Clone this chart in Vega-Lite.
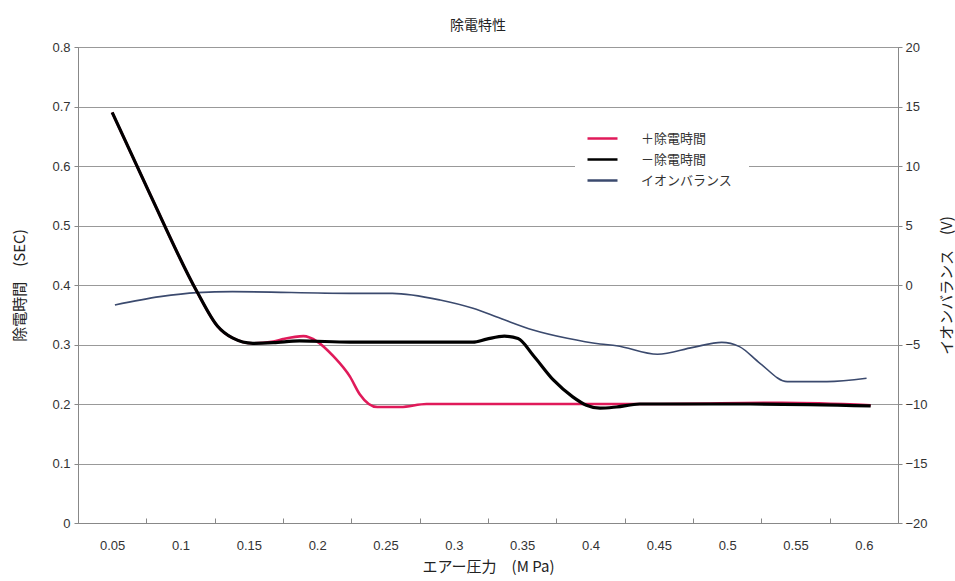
{
  "$schema": "https://vega.github.io/schema/vega-lite/v6.json",
  "width": 820,
  "height": 476,
  "autosize": {"type": "none"},
  "padding": {"left": 78, "top": 47, "right": 57, "bottom": 58},
  "background": "white",
  "title": {
    "text": "除電特性",
    "font": "Noto Sans CJK JP",
    "fontSize": 14,
    "fontWeight": "normal",
    "color": "#222",
    "offset": 8,
    "dx": -10
  },
  "datasets": {
    "plus": [
      {"p": 0.05, "value": 0.69, "series": "＋除電時間"},
      {"p": 0.078, "value": 0.551, "series": "＋除電時間"},
      {"p": 0.112, "value": 0.389, "series": "＋除電時間"},
      {"p": 0.127, "value": 0.331, "series": "＋除電時間"},
      {"p": 0.138, "value": 0.311, "series": "＋除電時間"},
      {"p": 0.153, "value": 0.302, "series": "＋除電時間"},
      {"p": 0.168, "value": 0.305, "series": "＋除電時間"},
      {"p": 0.175, "value": 0.309, "series": "＋除電時間"},
      {"p": 0.19, "value": 0.314, "series": "＋除電時間"},
      {"p": 0.2, "value": 0.305, "series": "＋除電時間"},
      {"p": 0.212, "value": 0.28, "series": "＋除電時間"},
      {"p": 0.224, "value": 0.246, "series": "＋除電時間"},
      {"p": 0.231, "value": 0.217, "series": "＋除電時間"},
      {"p": 0.244, "value": 0.195, "series": "＋除電時間"},
      {"p": 0.261, "value": 0.195, "series": "＋除電時間"},
      {"p": 0.28, "value": 0.2, "series": "＋除電時間"},
      {"p": 0.31, "value": 0.2, "series": "＋除電時間"},
      {"p": 0.4, "value": 0.2, "series": "＋除電時間"},
      {"p": 0.45, "value": 0.2, "series": "＋除電時間"},
      {"p": 0.54, "value": 0.202, "series": "＋除電時間"},
      {"p": 0.605, "value": 0.198, "series": "＋除電時間"}
    ],
    "minus": [
      {"p": 0.05, "value": 0.69, "series": "－除電時間"},
      {"p": 0.078, "value": 0.551, "series": "－除電時間"},
      {"p": 0.112, "value": 0.389, "series": "－除電時間"},
      {"p": 0.127, "value": 0.331, "series": "－除電時間"},
      {"p": 0.138, "value": 0.311, "series": "－除電時間"},
      {"p": 0.153, "value": 0.302, "series": "－除電時間"},
      {"p": 0.168, "value": 0.303, "series": "－除電時間"},
      {"p": 0.187, "value": 0.306, "series": "－除電時間"},
      {"p": 0.224, "value": 0.304, "series": "－除電時間"},
      {"p": 0.314, "value": 0.304, "series": "－除電時間"},
      {"p": 0.324, "value": 0.309, "series": "－除電時間"},
      {"p": 0.337, "value": 0.314, "series": "－除電時間"},
      {"p": 0.347, "value": 0.31, "series": "－除電時間"},
      {"p": 0.358, "value": 0.282, "series": "－除電時間"},
      {"p": 0.373, "value": 0.24, "series": "－除電時間"},
      {"p": 0.387, "value": 0.212, "series": "－除電時間"},
      {"p": 0.397, "value": 0.198, "series": "－除電時間"},
      {"p": 0.407, "value": 0.193, "series": "－除電時間"},
      {"p": 0.419, "value": 0.195, "series": "－除電時間"},
      {"p": 0.436, "value": 0.2, "series": "－除電時間"},
      {"p": 0.517, "value": 0.2, "series": "－除電時間"},
      {"p": 0.605, "value": 0.197, "series": "－除電時間"}
    ],
    "ion": [
      {"p": 0.052, "volt": -1.68, "series": "イオンバランス"},
      {"p": 0.085, "volt": -0.98, "series": "イオンバランス"},
      {"p": 0.112, "volt": -0.64, "series": "イオンバランス"},
      {"p": 0.138, "volt": -0.56, "series": "イオンバランス"},
      {"p": 0.224, "volt": -0.7, "series": "イオンバランス"},
      {"p": 0.255, "volt": -0.7, "series": "イオンバランス"},
      {"p": 0.29, "volt": -1.26, "series": "イオンバランス"},
      {"p": 0.314, "volt": -1.96, "series": "イオンバランス"},
      {"p": 0.334, "volt": -2.8, "series": "イオンバランス"},
      {"p": 0.358, "volt": -3.78, "series": "イオンバランス"},
      {"p": 0.383, "volt": -4.48, "series": "イオンバランス"},
      {"p": 0.407, "volt": -4.96, "series": "イオンバランス"},
      {"p": 0.419, "volt": -5.1, "series": "イオンバランス"},
      {"p": 0.449, "volt": -5.82, "series": "イオンバランス"},
      {"p": 0.475, "volt": -5.24, "series": "イオンバランス"},
      {"p": 0.496, "volt": -4.82, "series": "イオンバランス"},
      {"p": 0.509, "volt": -5.18, "series": "イオンバランス"},
      {"p": 0.524, "volt": -6.58, "series": "イオンバランス"},
      {"p": 0.544, "volt": -8.12, "series": "イオンバランス"},
      {"p": 0.573, "volt": -8.12, "series": "イオンバランス"},
      {"p": 0.602, "volt": -7.84, "series": "イオンバランス"}
    ]
  },
  "layer": [
    {
      "data": {"name": "ion"},
      "mark": {"type": "line", "interpolate": "monotone", "strokeWidth": 1.6},
      "encoding": {
        "x": {
          "field": "p",
          "type": "quantitative",
          "scale": {"domain": [0.025, 0.625], "nice": false, "zero": false},
          "axis": {
            "values": [0.05, 0.1, 0.15, 0.2, 0.25, 0.3, 0.35, 0.4, 0.45, 0.5, 0.55, 0.6],
            "format": "~g",
            "grid": false,
            "tickOffset": 34,
            "labelOffset": -34,
            "tickSize": -5,
            "labelPadding": 21,
            "title": "エアー圧力　(M Pa)",
            "titlePadding": 7,
            "titleFontSize": 15
          }
        },
        "y": {
          "field": "volt",
          "type": "quantitative",
          "scale": {"domain": [-20, 20], "nice": false, "zero": false},
          "axis": {
            "orient": "right",
            "values": [-20, -15, -10, -5, 0, 5, 10, 15, 20],
            "grid": false,
            "tickSize": 4,
            "labelPadding": 3,
            "title": "イオンバランス　(V)",
            "titleAngle": 270,
            "titleBaseline": "top",
            "titlePadding": 12,
            "titleFontSize": 15
          }
        },
        "color": {
          "field": "series",
          "type": "nominal",
          "scale": {
            "domain": ["＋除電時間", "－除電時間", "イオンバランス"],
            "range": ["#e01a5a", "#000000", "#3b4a6e"]
          },
          "legend": {
            "title": null,
            "orient": "none",
            "legendX": 497,
            "legendY": 64,
            "padding": 16,
            "fillColor": "white",
            "symbolType": "M-1.5,0H1.5",
            "symbolSize": 400,
            "symbolStrokeWidth": 2.5,
            "labelOffset": 27,
            "labelFontSize": 13,
            "labelColor": "#333",
            "rowPadding": 2
          }
        }
      }
    },
    {
      "layer": [
        {
          "data": {"name": "plus"},
          "mark": {"type": "line", "interpolate": "monotone", "strokeWidth": 2.6},
          "encoding": {
            "x": {"field": "p", "type": "quantitative"},
            "y": {
              "field": "value",
              "type": "quantitative",
              "scale": {"domain": [0, 0.8], "nice": false, "zero": false},
              "axis": {
                "orient": "left",
                "values": [0, 0.1, 0.2, 0.3, 0.4, 0.5, 0.6, 0.7, 0.8],
                "format": "~g",
                "grid": true,
                "gridColor": "#999",
                "tickSize": 4,
                "labelPadding": 4,
                "title": "除電時間　(SEC)",
                "titlePadding": 24,
                "titleFontSize": 15
              }
            },
            "color": {"field": "series", "type": "nominal"}
          }
        },
        {
          "data": {"name": "minus"},
          "mark": {"type": "line", "interpolate": "monotone", "strokeWidth": 3.2},
          "encoding": {
            "x": {"field": "p", "type": "quantitative"},
            "y": {"field": "value", "type": "quantitative"},
            "color": {"field": "series", "type": "nominal"}
          }
        }
      ]
    }
  ],
  "resolve": {"scale": {"y": "independent"}},
  "config": {
    "font": "Liberation Sans, Noto Sans CJK JP",
    "view": {"stroke": "#888"},
    "axis": {
      "domainColor": "#888",
      "tickColor": "#888",
      "labelFontSize": 13,
      "labelColor": "#333",
      "titleColor": "#222",
      "titleFontWeight": "normal",
      "titleFont": "Noto Sans CJK JP"
    },
    "legend": {"labelFont": "Noto Sans CJK JP"}
  }
}
